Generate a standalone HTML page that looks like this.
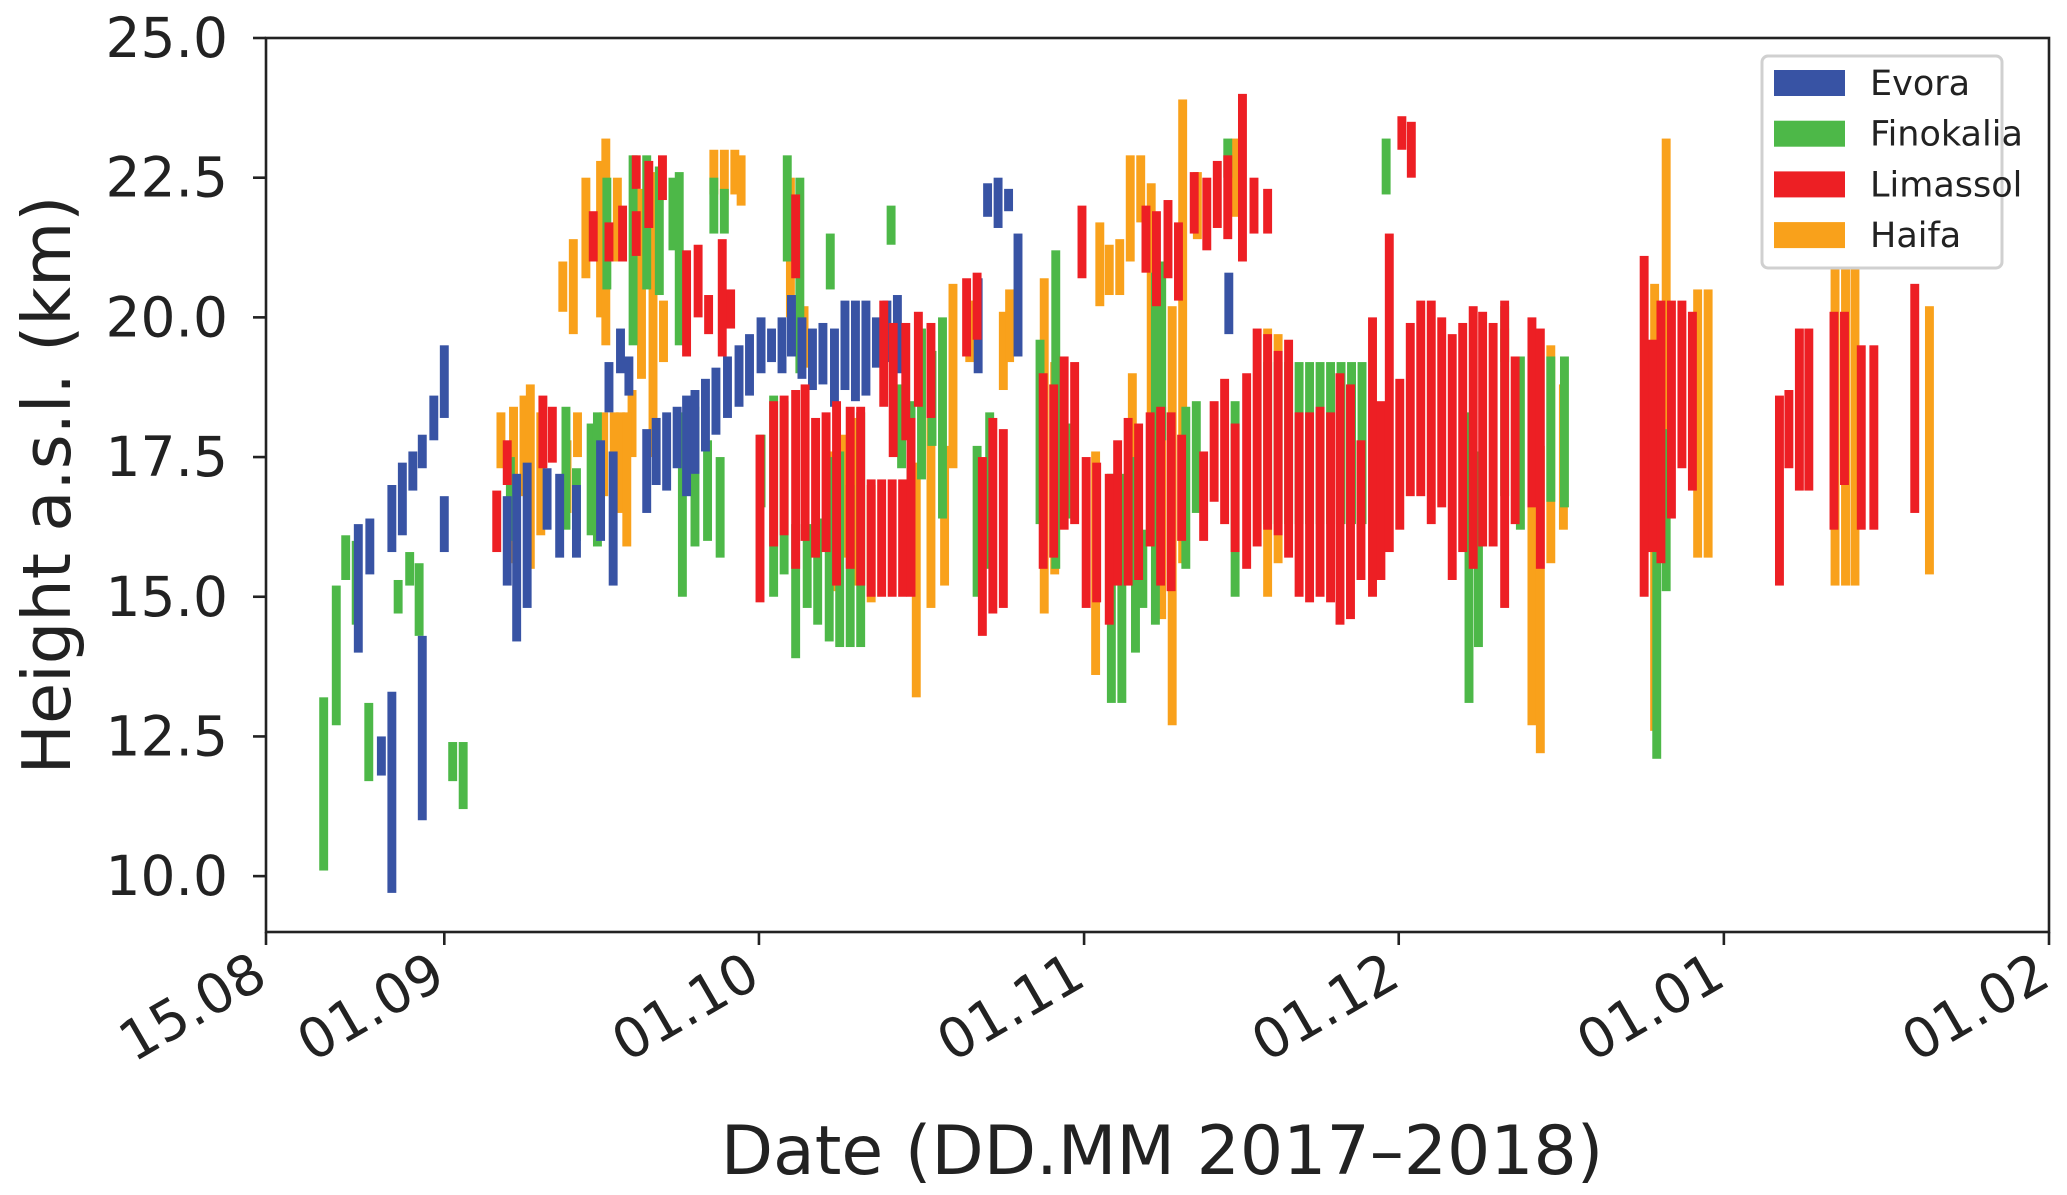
<!DOCTYPE html>
<html><head><meta charset="utf-8"><style>
html,body{margin:0;padding:0;background:#fff;}
svg{display:block;font-family:"DejaVu Sans","Liberation Sans",sans-serif;}
</style></head><body>
<svg id="chart" width="2067" height="1195" viewBox="0 0 2067 1195" xmlns="http://www.w3.org/2000/svg"></svg>
<script>
// Data: [day offset from 15.08.2017, bottom km, top km]
const xTickLabels = ["15.08","01.09","01.10","01.11","01.12","01.01","01.02"];
const xTickDays = [0,17,47,78,108,139,170];
const yTickValues = [10,12.5,15,17.5,20,22.5,25];
const stationNames = ["Evora","Finokalia","Limassol","Haifa"];
const evora = [[8.8,14.0,16.3],[9.9,15.4,16.4],[11.0,11.8,12.5],[12.0,9.7,13.3],[12.0,15.8,17.0],[13.0,16.1,17.4],[14.0,16.9,17.6],[14.9,11.0,14.3],[14.9,17.3,17.9],[16.0,17.8,18.6],[17.0,18.2,19.5],[17.0,15.8,16.8],[23.0,15.2,16.8],[23.9,14.2,17.2],[24.9,14.8,17.4],[26.8,16.2,17.3],[28.0,15.7,17.2],[29.6,15.7,17.0],[31.9,16.0,17.8],[33.1,15.2,17.6],[32.7,18.3,19.2],[33.8,19.0,19.8],[34.6,18.6,19.3],[36.3,16.5,18.0],[37.2,17.0,18.2],[38.2,16.9,18.3],[39.2,17.3,18.4],[40.1,16.8,18.6],[40.9,17.2,18.7],[41.9,17.6,18.9],[42.9,17.9,19.1],[44.0,18.2,19.3],[45.1,18.4,19.5],[46.1,18.6,19.7],[47.2,19.0,20.0],[48.2,19.2,19.8],[49.2,19.0,20.0],[50.1,19.3,20.4],[51.1,18.9,20.0],[52.1,18.7,19.8],[53.1,18.8,19.9],[54.2,18.4,19.8],[55.2,18.7,20.3],[56.2,18.5,20.3],[57.2,18.6,20.3],[58.2,19.1,20.0],[59.2,19.2,20.3],[60.2,19.0,20.4],[67.9,19.0,20.7],[68.8,21.8,22.4],[69.8,21.6,22.5],[70.8,21.9,22.3],[71.7,19.3,21.5],[91.8,19.7,20.8]];
const finokalia = [[5.5,10.1,13.2],[6.7,12.7,15.2],[7.6,15.3,16.1],[8.6,14.5,16.0],[9.8,11.7,13.1],[12.6,14.7,15.3],[13.7,15.2,15.8],[14.6,14.3,15.6],[17.8,11.7,12.4],[18.8,11.2,12.4],[23.3,16.0,17.5],[28.6,16.2,18.4],[29.6,16.0,17.3],[31.0,16.1,18.1],[31.6,15.9,18.3],[32.5,20.5,22.5],[35.0,19.5,22.9],[36.3,20.5,22.9],[37.5,20.4,22.7],[38.8,21.2,22.5],[39.4,19.5,22.6],[39.7,15.0,18.3],[40.9,15.9,18.4],[42.1,16.0,17.8],[42.7,21.5,22.5],[43.3,15.7,17.5],[43.7,21.5,22.3],[47.2,16.6,17.9],[48.4,15.0,18.6],[49.4,15.4,18.5],[49.7,21.0,22.9],[50.5,13.9,16.3],[50.9,19.0,22.5],[51.6,14.8,16.3],[52.6,14.5,16.4],[53.7,14.2,17.5],[53.8,20.5,21.5],[54.7,14.1,17.6],[55.7,14.1,17.0],[56.7,14.1,18.3],[59.6,21.3,22.0],[60.6,17.3,18.8],[61.5,16.5,18.5],[62.5,17.1,19.8],[63.5,17.7,19.4],[64.5,16.4,20.0],[67.8,15.0,17.7],[69.0,15.5,18.3],[73.8,16.3,19.6],[75.3,15.5,21.2],[75.8,17.1,19.3],[76.8,16.4,18.1],[80.6,13.1,17.2],[81.6,13.1,17.2],[82.9,14.0,17.5],[83.6,14.8,16.2],[84.8,14.5,20.8],[85.4,17.8,21.0],[87.7,15.5,18.4],[88.7,16.5,18.5],[91.7,22.5,23.2],[92.4,15.0,18.5],[95.5,16.3,19.2],[96.5,16.3,19.2],[97.5,16.3,19.2],[98.5,16.3,19.2],[99.5,16.3,19.2],[100.5,16.3,19.2],[101.5,16.3,19.2],[102.5,16.3,19.2],[103.5,16.3,19.2],[104.5,16.3,19.2],[106.8,22.2,23.2],[114.7,13.1,18.3],[115.6,14.1,17.6],[118.1,16.8,20.2],[119.6,16.2,19.3],[122.5,16.7,19.3],[123.8,16.6,19.3],[132.6,12.1,19.5],[133.5,15.1,18.0]];
const limassol = [[22.0,15.8,16.9],[23.0,17.0,17.8],[26.4,17.3,18.6],[27.3,17.4,18.4],[31.2,21.0,21.9],[32.7,21.0,21.7],[34.0,21.0,22.0],[35.3,22.3,22.9],[35.3,21.1,21.9],[36.5,21.6,22.8],[37.8,22.1,22.9],[40.1,19.3,21.2],[41.2,20.0,21.3],[42.2,19.7,20.4],[43.5,19.3,21.4],[44.3,19.8,20.5],[50.5,20.7,22.2],[47.1,14.9,17.9],[48.4,15.9,18.5],[49.4,16.1,18.6],[50.5,15.5,18.7],[51.4,16.0,18.8],[52.4,15.7,18.2],[53.4,15.8,18.3],[54.4,15.2,18.5],[55.7,15.5,18.4],[56.7,15.2,18.4],[57.7,15.0,17.1],[58.7,15.0,17.1],[59.7,15.0,17.1],[60.7,15.0,17.1],[61.5,15.0,18.2],[58.9,18.4,20.3],[59.8,17.5,19.9],[61.0,17.8,19.9],[62.2,18.4,20.1],[63.4,18.2,19.9],[66.8,19.3,20.7],[67.8,19.6,20.8],[68.3,14.3,17.5],[69.3,14.7,18.2],[70.3,14.8,18.0],[74.1,15.5,19.0],[75.1,15.7,18.8],[76.1,16.2,19.3],[77.1,16.3,19.2],[77.8,20.7,22.0],[78.2,14.8,17.5],[79.2,14.9,17.4],[80.4,14.5,17.2],[81.2,15.2,17.8],[82.2,15.2,18.2],[83.2,15.3,18.1],[84.3,15.9,18.3],[85.3,15.2,18.4],[86.3,15.1,18.3],[87.3,16.0,17.9],[83.9,20.8,22.0],[84.9,20.2,21.9],[86.0,20.7,22.1],[87.0,20.3,21.7],[88.5,21.5,22.6],[89.7,21.2,22.5],[90.7,21.6,22.8],[91.7,21.4,22.9],[93.1,21.0,24.0],[94.2,21.5,22.5],[95.5,21.5,22.3],[89.4,16.0,17.6],[90.4,16.7,18.5],[91.4,16.3,18.9],[92.4,15.8,18.1],[93.5,15.5,19.0],[94.5,15.9,19.8],[95.5,16.2,19.7],[96.5,16.1,19.4],[97.5,15.7,19.6],[98.5,15.0,18.3],[99.5,14.9,18.3],[100.5,15.0,18.4],[101.5,14.9,18.3],[102.4,14.5,19.0],[103.4,14.6,18.8],[104.4,15.3,17.8],[105.5,15.0,20.0],[106.3,15.3,18.5],[107.1,15.8,21.5],[108.3,23.0,23.6],[109.2,22.5,23.5],[108.1,16.2,18.9],[109.1,16.8,19.9],[110.1,16.8,20.3],[111.1,16.3,20.3],[112.1,16.6,20.0],[113.1,15.3,19.7],[114.1,15.8,19.9],[115.1,15.5,20.2],[116.0,15.9,20.1],[117.0,15.9,19.9],[118.1,14.8,20.3],[119.1,16.3,19.3],[120.7,16.6,20.0],[121.5,15.5,19.8],[131.4,15.0,21.1],[132.2,15.8,19.6],[133.0,15.6,20.3],[134.0,16.4,20.3],[135.0,17.3,20.3],[136.0,16.9,20.1],[144.3,15.2,18.6],[145.2,17.3,18.7],[146.2,16.9,19.8],[147.1,16.9,19.8],[149.5,16.2,20.1],[150.5,17.0,20.1],[152.1,16.2,19.5],[153.3,16.2,19.5],[157.2,16.5,20.6]];
const haifa = [[22.4,17.3,18.3],[23.6,15.6,18.4],[24.6,16.8,18.6],[25.2,15.5,18.8],[26.2,16.1,18.3],[28.3,20.1,21.0],[29.3,19.7,21.4],[30.5,20.7,22.5],[31.9,20.0,22.8],[32.4,19.5,23.2],[33.5,21.0,22.5],[33.8,16.5,18.3],[34.9,17.5,18.7],[35.8,18.9,22.3],[36.9,17.5,22.6],[37.9,19.2,20.3],[42.7,22.2,23.0],[43.7,22.1,23.0],[44.7,22.2,23.0],[45.3,22.0,22.9],[28.7,16.5,17.8],[29.7,17.5,18.3],[32.2,16.8,18.3],[33.2,16.7,18.3],[34.4,15.9,18.3],[50.0,20.0,22.5],[51.3,19.1,20.2],[53.9,15.1,17.6],[55.2,15.7,17.9],[56.4,15.2,18.2],[57.7,14.9,17.0],[62.0,13.2,17.4],[63.4,14.8,18.9],[64.7,15.2,17.7],[65.5,17.3,20.6],[67.1,19.2,20.3],[70.3,18.7,20.1],[70.9,19.2,20.5],[74.2,14.7,20.7],[75.2,15.4,19.2],[79.1,13.6,17.6],[79.5,20.2,21.7],[80.4,20.4,21.3],[81.4,20.4,21.4],[82.4,21.0,22.9],[83.4,21.7,22.9],[82.6,16.6,19.0],[84.4,16.0,22.4],[85.4,14.6,18.4],[86.4,12.7,20.2],[87.4,15.6,23.9],[88.8,21.4,22.6],[92.4,21.8,23.2],[95.5,15.0,19.8],[96.5,15.6,19.7],[118.1,19.2,19.8],[120.7,12.7,17.8],[121.5,12.2,17.7],[122.5,15.6,19.5],[123.7,16.2,18.8],[132.4,12.6,20.6],[133.5,17.7,23.2],[136.5,15.7,20.5],[137.5,15.7,20.5],[149.6,15.2,20.9],[150.6,15.2,21.3],[151.5,15.2,21.3],[158.6,15.4,20.2]];
const colors = {Evora:"#3853a4",Finokalia:"#4db848",Limassol:"#ed1f24",Haifa:"#f9a11b"};

const NS="http://www.w3.org/2000/svg";
const svg=document.getElementById('chart');
const L=266,R=2049,T=38,B=932;
const X0=0,X1=170,Y0=9,Y1=25;
function xs(d){return L+(d-X0)/(X1-X0)*(R-L);}
function ys(v){return B-(v-Y0)/(Y1-Y0)*(B-T);}
function mk(tag,attrs,parent){const e=document.createElementNS(NS,tag);for(const k in attrs)e.setAttribute(k,attrs[k]);(parent||svg).appendChild(e);return e;}

const gBars=mk('g',{});


const bw=(R-L)/170*0.85;
function drawSeries(arr,name){
  const g=mk('g',{},gBars);
  
  
  arr.forEach(function(b){
    const r=mk('rect',{x:xs(b[0])-bw/2,y:ys(b[2]),width:bw,height:ys(b[1])-ys(b[2]),fill:colors[name]},g);
    
    
  });
}
drawSeries(haifa,"Haifa");
drawSeries(finokalia,"Finokalia");
drawSeries(evora,"Evora");
drawSeries(limassol,"Limassol");

const frame=mk('rect',{x:L,y:T,width:R-L,height:B-T,fill:'none',stroke:'#222',"stroke-width":2.6});



yTickValues.forEach(function(v){
  const y=ys(v);
  const t=mk('line',{x1:L-13,x2:L,y1:y,y2:y,stroke:'#222',"stroke-width":2.6});
  
  
  const tx=mk('text',{x:L-38,y:y+19,"text-anchor":"end","font-size":55,fill:'#222'});
  tx.textContent=v.toFixed(1);
  
  
});
xTickDays.forEach(function(d,i){
  const x=xs(d);
  const t=mk('line',{x1:x,x2:x,y1:B,y2:B+13,stroke:'#222',"stroke-width":2.6});
  
  
  const tx=mk('text',{x:0,y:0,"text-anchor":"end","font-size":55,fill:'#222',transform:'translate('+(x+4)+','+(B+52)+') rotate(-30)'});
  tx.textContent=xTickLabels[i];
  
  
});
const yt=mk('text',{x:0,y:0,"text-anchor":"middle","font-size":67,fill:'#222',transform:'translate(70,'+((T+B)/2)+') rotate(-90)'});
yt.textContent='Height a.s.l. (km)';


const xt=mk('text',{x:1162,y:1174,"text-anchor":"middle","font-size":68,fill:'#222'});
xt.textContent='Date (DD.MM 2017–2018)';



const lg=mk('g',{});


mk('rect',{x:1762,y:56,width:240,height:212,rx:6,fill:'#fff',stroke:'#d0d0d0',"stroke-width":3},lg);
stationNames.forEach(function(n,i){
  const cy=83+i*50.7;
  const e=mk('g',{},lg);
  
  
  mk('rect',{x:1774,y:cy-13,width:71,height:26,fill:colors[n]},e);
  const t=mk('text',{x:1870,y:cy+12,"font-size":35,fill:'#222'},e);
  t.textContent=n;
});
</script>
</body></html>
